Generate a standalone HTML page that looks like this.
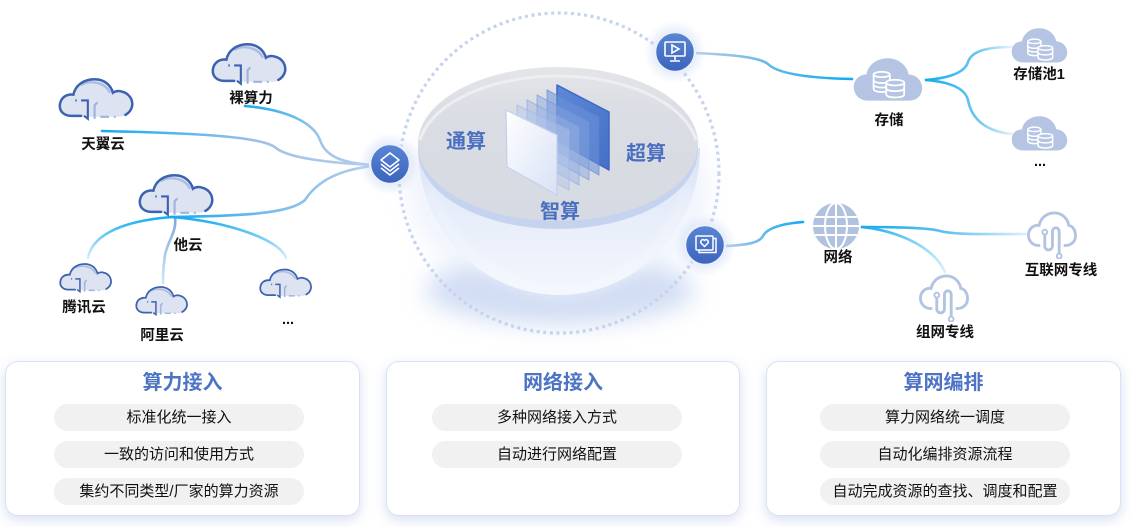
<!DOCTYPE html>
<html><head><meta charset="utf-8">
<style>
html,body{margin:0;padding:0;background:#fff;}
body{width:1131px;height:527px;position:relative;overflow:hidden;font-family:"Liberation Sans","Noto Sans CJK SC",sans-serif;}
svg{position:absolute;left:0;top:0;}
.card{position:absolute;top:361px;height:153px;background:#fff;border:1px solid #d9e2f5;border-radius:13px;box-shadow:0 4px 12px rgba(110,140,205,0.28);}
.card .t{position:absolute;left:0;right:0;top:9px;text-align:center;font-size:20px;line-height:24px;font-weight:bold;color:#4c73c4;}
.pill{position:absolute;width:250px;height:27px;line-height:27px;border-radius:14px;background:#f1f1f1;text-align:center;font-size:15px;color:#111;}
</style></head><body>
<svg width="1131" height="527" viewBox="0 0 1131 527" xmlns="http://www.w3.org/2000/svg">
<defs>
  <filter id="blur12" x="-50%" y="-50%" width="200%" height="200%"><feGaussianBlur stdDeviation="12"/></filter>
  <filter id="blur6" x="-50%" y="-50%" width="200%" height="200%"><feGaussianBlur stdDeviation="6"/></filter>
  <radialGradient id="halo" cx="0.5" cy="0.5" r="0.5">
    <stop offset="0.45" stop-color="#9fb8ea" stop-opacity="0.45"/>
    <stop offset="1" stop-color="#c9d7f3" stop-opacity="0"/>
  </radialGradient>
  <linearGradient id="btn" x1="0" y1="0" x2="0" y2="1">
    <stop offset="0" stop-color="#5a86d6"/>
    <stop offset="1" stop-color="#3b63bd"/>
  </linearGradient>
  <linearGradient id="bodyG" x1="0" y1="0" x2="0" y2="1">
    <stop offset="0" stop-color="#d9e3f6"/>
    <stop offset="0.5" stop-color="#e8eefa"/>
    <stop offset="1" stop-color="#f3f6fd"/>
  </linearGradient>
  <linearGradient id="topG" x1="0" y1="0" x2="0" y2="1">
    <stop offset="0" stop-color="#e4e5e9"/>
    <stop offset="0.3" stop-color="#dadde3"/>
    <stop offset="1" stop-color="#d6dae2"/>
  </linearGradient>
  <linearGradient id="frontG" x1="0" y1="0" x2="1" y2="1">
    <stop offset="0" stop-color="#ffffff"/>
    <stop offset="1" stop-color="#d8e1f5"/>
  </linearGradient>
  <linearGradient id="backG" x1="0" y1="0" x2="1" y2="1">
    <stop offset="0" stop-color="#5d88d8"/>
    <stop offset="1" stop-color="#4670c6"/>
  </linearGradient>
  <!-- connector gradients -->
  <linearGradient id="gL" gradientUnits="userSpaceOnUse" x1="100" y1="0" x2="372" y2="0">
    <stop offset="0" stop-color="#14acef"/>
    <stop offset="0.6" stop-color="#9fc1e8"/>
    <stop offset="1" stop-color="#b8cdec"/>
  </linearGradient>
  <linearGradient id="gL2" gradientUnits="userSpaceOnUse" x1="245" y1="0" x2="372" y2="0">
    <stop offset="0" stop-color="#14acef"/>
    <stop offset="0.6" stop-color="#9fc5ea"/>
    <stop offset="1" stop-color="#b8cdec"/>
  </linearGradient>
  <linearGradient id="gL3" gradientUnits="userSpaceOnUse" x1="170" y1="0" x2="372" y2="0">
    <stop offset="0" stop-color="#14acef"/>
    <stop offset="0.5" stop-color="#78bde9"/>
    <stop offset="1" stop-color="#b8cdec"/>
  </linearGradient>
  <linearGradient id="gDown" x1="0" y1="0" x2="0" y2="1">
    <stop offset="0" stop-color="#14acef"/>
    <stop offset="1" stop-color="#d8eefb"/>
  </linearGradient>
  <linearGradient id="gDownA" x1="0" y1="0" x2="0" y2="1">
    <stop offset="0" stop-color="#7aa6dc"/>
    <stop offset="1" stop-color="#cfe6f8"/>
  </linearGradient>
  <linearGradient id="gR1" gradientUnits="userSpaceOnUse" x1="695" y1="0" x2="852" y2="0">
    <stop offset="0" stop-color="#b9cbea"/>
    <stop offset="0.5" stop-color="#5db8ea"/>
    <stop offset="1" stop-color="#12abef"/>
  </linearGradient>
  <linearGradient id="gR2" gradientUnits="userSpaceOnUse" x1="926" y1="0" x2="1012" y2="0">
    <stop offset="0" stop-color="#12abef"/>
    <stop offset="0.6" stop-color="#6cc7f2"/>
    <stop offset="1" stop-color="#e2f3fc"/>
  </linearGradient>
  <linearGradient id="gR3" gradientUnits="userSpaceOnUse" x1="725" y1="0" x2="803" y2="0">
    <stop offset="0" stop-color="#b9cbea"/>
    <stop offset="0.6" stop-color="#4fb5ec"/>
    <stop offset="1" stop-color="#12abef"/>
  </linearGradient>
  <linearGradient id="gR4" gradientUnits="userSpaceOnUse" x1="862" y1="0" x2="1026" y2="0">
    <stop offset="0" stop-color="#12abef"/>
    <stop offset="0.5" stop-color="#5fc0ef"/>
    <stop offset="1" stop-color="#d8effb"/>
  </linearGradient>
  <linearGradient id="gR5" gradientUnits="userSpaceOnUse" x1="862" y1="227" x2="945" y2="275">
    <stop offset="0" stop-color="#12abef"/>
    <stop offset="1" stop-color="#dcf0fb"/>
  </linearGradient>

  <!-- outline cloud -->
  <symbol id="oc" viewBox="0 0 80 46">
    <path d="M14,42 C6,42 1,36 2,29 C3,22 9,18 16,19 C18,9 27,3 38,3 C48,3 55,9 57,17 C60,15 64,15 67,16 C74,18 78,24 77,31 C76,37 71,42 64,42 Z" fill="#dde3f0"/>
    <path d="M24,9 C32,4 48,5 54,17" stroke="#a9bce2" stroke-width="2.4" fill="none"/>
    <path d="M24,41 H14 C6,41 1,36 2,29 C3,22 9,18 16,19 C18,9 27,3 38,3 C48,3 55,9 57,17 C60,15 64,15 67,16 C74,18 78,24 77,31 C76,35 74,38 70,40" fill="none" stroke="#3d62b2" stroke-width="2.6" stroke-linecap="round"/>
    <path d="M18,25 h1.5 M24,25 h7 v19 l-4,-3" stroke="#3d62b2" stroke-width="2.2" fill="none"/>
    <path d="M38,44 v-14 l3,-3 M44,42 h9 M58,42 h2" stroke="#9fb3dc" stroke-width="2.2" fill="none"/>
  </symbol>
  <!-- filled storage cloud -->
  <symbol id="fc" viewBox="0 0 80 52">
    <path d="M18,50 C8,50 2,43 2,35 C2,27 8,21 16,21 C18,10 28,3 40,3 C52,3 61,11 63,21 C71,21 78,28 78,36 C78,44 72,50 64,50 Z" fill="#b4c4e2"/>
    <g fill="#b4c4e2" stroke="#fff" stroke-width="2">
      <path d="M24,21 v16 c0,2.5 5,3.5 9,3.5 s9,-1 9,-3.5 v-16"/>
      <ellipse cx="33" cy="21" rx="9" ry="3"/>
      <path d="M24,27 c0,2.5 5,3.5 9,3.5 s9,-1 9,-3.5 M24,32 c0,2.5 5,3.5 9,3.5 s9,-1 9,-3.5" fill="none"/>
      <path d="M38,30 v13 c0,2.5 5,3.5 10,3.5 s10,-1 10,-3.5 v-13"/>
      <ellipse cx="48" cy="30" rx="10" ry="3.2"/>
      <path d="M38,36 c0,2.5 5,3.5 10,3.5 s10,-1 10,-3.5" fill="none"/>
    </g>
  </symbol>
  <!-- circuit cloud -->
  <symbol id="cc" viewBox="0 0 52 50">
    <g fill="none" stroke="#b3c3e2" stroke-width="3" stroke-linecap="round">
      <path d="M13,36 C6,36 2,31 2,25 C2,19 7,14 13,15 C15,7 21,2 29,2 C37,2 43,8 44,15 C49,16 51,21 51,26 C51,32 46,36 40,36"/>
      <path d="M19,25 V36 C19,42 27,42 27,36 V22 C27,16 34,16 34,22 V44"/>
      <circle cx="19" cy="22" r="2.5" stroke-width="2"/>
      <circle cx="34" cy="47" r="2.5" stroke-width="2"/>
    </g>
  </symbol>
</defs>

<!-- left connectors -->
<g fill="none" stroke-width="2.6" stroke-linecap="round">
  <path d="M102,131 C190,133 262,136 276,148 C288,158 330,163 372,165" stroke="url(#gL)"/>
  <path d="M245,106 C290,110 314,124 320,140 C326,158 345,163 372,165" stroke="url(#gL2)"/>
  <path d="M170,217 C240,216 290,214 305,200 C318,180 340,170 372,166" stroke="url(#gL3)"/>
  <path d="M172,217 C120,221 92,236 88,258" stroke="url(#gDown)"/>
  <path d="M175,217 C177,232 168,240 165,255 C163,268 163,276 163,283" stroke="url(#gDownA)"/>
  <path d="M172,217 C230,222 280,240 286,258" stroke="url(#gDown)"/>
</g>
<!-- right connectors -->
<g fill="none" stroke-width="2.6" stroke-linecap="round">
  <path d="M695,53 C740,55 760,58 768,64 C776,72 800,78 852,79" stroke="url(#gR1)"/>
  <path d="M926,80 C950,78 965,72 968,62 C972,50 990,47 1012,47" stroke="url(#gR2)"/>
  <path d="M926,80 C950,82 965,88 968,100 C972,122 990,132 1012,134" stroke="url(#gR2)"/>
  <path d="M725,246 C750,245 760,242 763,236 C768,226 790,223 803,222" stroke="url(#gR3)"/>
  <path d="M862,227 C900,227 930,228 940,231 C955,235 990,234 1026,234" stroke="url(#gR4)"/>
  <path d="M862,227 C905,232 935,250 945,272" stroke="url(#gR5)"/>
</g>

<!-- bowl glow -->
<ellipse cx="560" cy="290" rx="135" ry="35" fill="#c3d2f0" opacity="0.75" filter="url(#blur12)"/>
<ellipse cx="558" cy="190" rx="150" ry="100" fill="#dfe7f8" opacity="0.5" filter="url(#blur12)"/>

<!-- dotted circle -->
<circle cx="559" cy="173" r="160" fill="none" stroke="#c6d3ee" stroke-width="3.2" stroke-dasharray="3 3.6"/>

<!-- bowl body -->
<path d="M418,148 A141,147 0 0 0 700,148 Z" fill="url(#bodyG)"/>
<path d="M430,190 C450,260 510,292 560,294 C610,292 670,260 688,190" fill="none" stroke="#ffffff" stroke-width="6" opacity="0.5" filter="url(#blur6)"/>
<!-- rim -->
<ellipse cx="558" cy="150" rx="140" ry="79" fill="#c6d3ee"/>
<ellipse cx="558" cy="144" rx="140" ry="77" fill="url(#topG)"/>
<path d="M420,140 A140,77 0 0 1 696,140" fill="none" stroke="#eceef1" stroke-width="3"/>

<!-- sheets -->
<g>
  <polygon points="557,85 609,112 609,170 557,141" fill="url(#backG)" stroke="#3f69c2" stroke-width="1.5" stroke-linejoin="round"/>
  <polygon points="547,90 599,117 599,175 547,146" fill="#6d92d8" fill-opacity="0.55" stroke="#5a82d0" stroke-opacity="0.6"/>
  <polygon points="537,95 589,122 589,180 537,151" fill="#85a3dd" fill-opacity="0.45" stroke="#6f92d6" stroke-opacity="0.6"/>
  <polygon points="527,100 579,127 579,185 527,156" fill="#9cb4e3" fill-opacity="0.45" stroke="#86a3de" stroke-opacity="0.6"/>
  <polygon points="517,105 569,130 569,190 517,161" fill="#b3c6ea" fill-opacity="0.45" stroke="#9db4e4" stroke-opacity="0.6"/>
  <polygon points="506,110 557,135 557,195 507,167" fill="url(#frontG)" stroke="#c3d0ee" stroke-width="1.2"/>
</g>

<!-- bowl labels -->
<g font-family="Liberation Sans, Noto Sans CJK SC, sans-serif" font-size="20" font-weight="bold" fill="#4a6fc0" text-anchor="middle" dominant-baseline="central">
  <text x="466" y="142">通算</text>
  <text x="646" y="154">超算</text>
  <text x="560" y="212">智算</text>
</g>

<!-- hub circles -->
<circle cx="390" cy="164" r="32" fill="url(#halo)"/>
<circle cx="675" cy="52" r="32" fill="url(#halo)"/>
<circle cx="705" cy="245" r="32" fill="url(#halo)"/>
<g stroke="#e9effb" stroke-width="2.5">
  <circle cx="390" cy="164" r="20" fill="url(#btn)"/>
  <circle cx="675" cy="52" r="20" fill="url(#btn)"/>
  <circle cx="705" cy="245" r="20" fill="url(#btn)"/>
</g>
<!-- layer icon -->
<g fill="none" stroke="#fff" stroke-width="1.6" stroke-linejoin="round">
  <path d="M390,153 L399,160 L390,167 L381,160 Z"/>
  <path d="M381,164 L390,171 L399,164"/>
  <path d="M381,168 L390,175 L399,168"/>
</g>
<!-- monitor icon -->
<g fill="none" stroke="#fff" stroke-width="1.6">
  <rect x="665" y="42" width="20" height="14" rx="1"/>
  <path d="M672,45 L679,49 L672,53 Z"/>
  <path d="M675,56 v4 M670,61 h10"/>
</g>
<!-- heart icon -->
<g fill="none" stroke="#fff" stroke-width="1.5">
  <rect x="696" y="236" width="17" height="14" rx="1"/>
  <path d="M699,250 v2.5 h17 v-14 h-3"/>
  <path d="M704.5,246.5 l-3.5,-3.5 a2.2,2.2 0 0 1 3.5,-2.6 a2.2,2.2 0 0 1 3.5,2.6 z"/>
</g>

<!-- left clouds -->
<use href="#oc" x="58" y="76" width="77" height="45"/>
<use href="#oc" x="211" y="41" width="77" height="45"/>
<use href="#oc" x="138" y="171" width="77" height="47"/>
<use href="#oc" x="59" y="261" width="54" height="33"/>
<use href="#oc" x="135" y="285" width="54" height="31"/>
<use href="#oc" x="259" y="267" width="54" height="32"/>

<!-- storage clouds -->
<use href="#fc" x="852" y="55" width="72" height="48"/>
<use href="#fc" x="1010" y="26" width="59" height="38"/>
<use href="#fc" x="1010" y="114" width="59" height="38"/>

<!-- globe -->
<g>
  <circle cx="836" cy="226" r="23" fill="#b1c1e0"/>
  <g fill="none" stroke="#fff" stroke-width="2">
    <line x1="836" y1="203" x2="836" y2="249"/>
    <ellipse cx="836" cy="226" rx="11" ry="23"/>
    <line x1="815" y1="217" x2="857" y2="217"/>
    <line x1="813" y1="226" x2="859" y2="226"/>
    <line x1="815" y1="235" x2="857" y2="235"/>
  </g>
</g>

<!-- circuit clouds -->
<use href="#cc" x="1026" y="211" width="51" height="48"/>
<use href="#cc" x="918" y="274" width="51" height="48"/>

<!-- node labels -->
<g font-family="Liberation Sans, Noto Sans CJK SC, sans-serif" font-size="14.5" font-weight="bold" fill="#111" text-anchor="middle" dominant-baseline="central">
  <text x="103" y="145">天翼云</text>
  <text x="251" y="99">裸算力</text>
  <text x="188" y="246">他云</text>
  <text x="84" y="308">腾讯云</text>
  <text x="162" y="336">阿里云</text>
  <text x="288" y="320">...</text>
  <text x="889" y="121">存储</text>
  <text x="1039" y="75">存储池1</text>
  <text x="1040" y="162">...</text>
  <text x="838" y="258">网络</text>
  <text x="1061" y="271">互联网专线</text>
  <text x="945" y="333">组网专线</text>
</g>
</svg>

<div class="card" style="left:5px;width:353px;">
  <div class="t">算力接入</div>
  <div class="pill" style="left:48px;top:42px;">标准化统一接入</div>
  <div class="pill" style="left:48px;top:79px;">一致的访问和使用方式</div>
  <div class="pill" style="left:48px;top:116px;">集约不同类型/厂家的算力资源</div>
</div>
<div class="card" style="left:386px;width:352px;">
  <div class="t">网络接入</div>
  <div class="pill" style="left:45px;top:42px;">多种网络接入方式</div>
  <div class="pill" style="left:45px;top:79px;">自动进行网络配置</div>
</div>
<div class="card" style="left:766px;width:353px;">
  <div class="t">算网编排</div>
  <div class="pill" style="left:53px;top:42px;">算力网络统一调度</div>
  <div class="pill" style="left:53px;top:79px;">自动化编排资源流程</div>
  <div class="pill" style="left:53px;top:116px;">自动完成资源的查找、调度和配置</div>
</div>
</body></html>
